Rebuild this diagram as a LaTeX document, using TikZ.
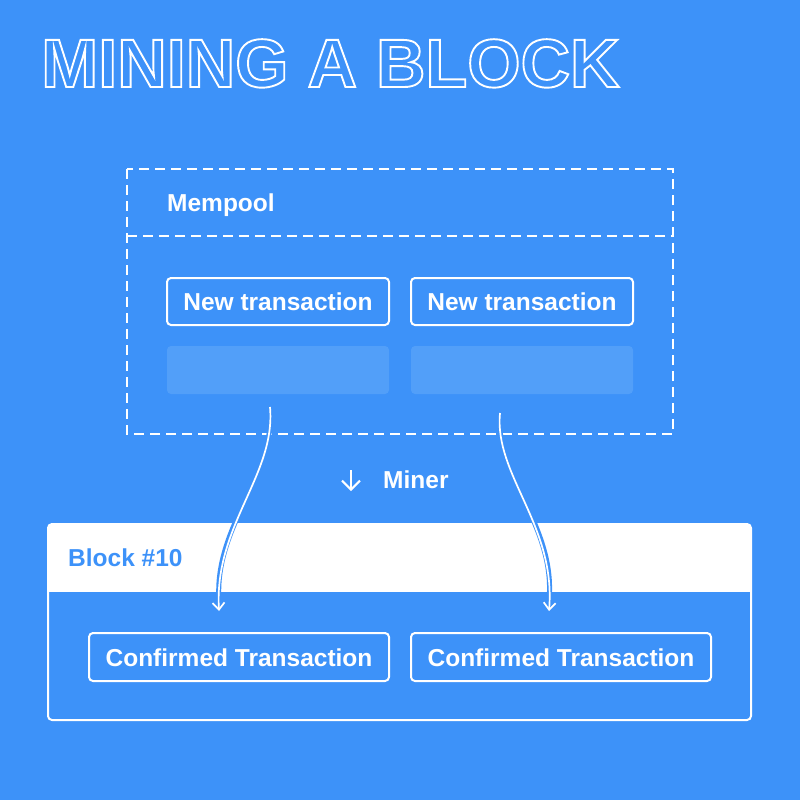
\documentclass[tikz,border=0pt]{standalone}
\usepackage{fontspec}
\setmainfont{Liberation Sans}
\usetikzlibrary{arrows.meta}
\definecolor{bg}{HTML}{3D92F9}
\definecolor{lightbox}{HTML}{529FF9}
\newcommand{\outlinetext}[1]{\special{pdf:literal direct 1 Tr 1.9 w 1 1 1 RG}#1\special{pdf:literal direct 0 Tr}}
\begin{document}
\begin{tikzpicture}[x=1pt,y=-1pt,
  lbl/.style={font=\fontsize{24.5}{28}\selectfont\bfseries, text=white, inner sep=0pt, anchor=base west},
  clbl/.style={lbl, anchor=base},
  txbox/.style={draw=white, line width=2pt, rounded corners=4pt},
  dashbox/.style={draw=white, line width=2pt, dash pattern=on 10pt off 6pt},
  flow/.style={white, line width=1.7pt, -{Straight Barb[length=7pt,width=12pt,line width=1.7pt]}},
  halo/.style={bg, line width=5pt}]
\fill[bg] (0,0) rectangle (800,800);
\useasboundingbox (0,0) rectangle (800,800);
% title
\node[inner sep=0pt, anchor=base west, text=white] (title) at (41,87) {\fontsize{68.5}{78}\selectfont\bfseries\outlinetext{MINING A BLOCK}};
% mempool
\draw[dashbox] (127,169) rectangle (673,434);
\draw[dashbox] (127,236) -- (673,236);
\node[lbl] (mempool) at (167,211.5) {Mempool};
\draw[txbox] (167,278) rectangle (389,325);
\draw[txbox] (411,278) rectangle (633,325);
\node[clbl] (nt1) at (278,310.5) {New transaction};
\node[clbl] (nt2) at (522,310.5) {New transaction};
\fill[lightbox, rounded corners=4pt] (167,346) rectangle (389,394);
\fill[lightbox, rounded corners=4pt] (411,346) rectangle (633,394);
% miner
\coordinate (ma) at (351,470);
\coordinate (mb) at (351,491);
\draw[white, line width=2pt, -{Straight Barb[length=9pt,width=18pt,line width=2pt]}] (ma) -- (mb);
\node[lbl] (miner) at (383,488) {Miner};
% block
\fill[white, rounded corners=4pt] (48,524) rectangle (751,600);
\fill[bg] (48,592) rectangle (751,610);
\draw[white, line width=2pt, rounded corners=4pt] (48,524) rectangle (751,720);
\node[lbl, text=bg] (block) at (68,566.5) {Block \#10};
\draw[txbox] (89,633) rectangle (389,681);
\draw[txbox] (411,633) rectangle (711,681);
\node[clbl] (ct1) at (239,666.5) {Confirmed Transaction};
\node[clbl] (ct2) at (561,666.5) {Confirmed Transaction};
% flow arrows
\coordinate (s1) at (270,407);
\coordinate (e1) at (219,611);
\coordinate (s2) at (500,413);
\coordinate (e2) at (549,611);
\draw[halo] (s1) .. controls (276,475) and (214,525) .. (219,600);
\draw[halo] (s2) .. controls (494,475) and (556,525) .. (549,600);
\draw[flow] (s1) .. controls (276,475) and (214,525) .. (e1);
\draw[flow] (s2) .. controls (494,475) and (556,525) .. (e2);
\end{tikzpicture}
\end{document}
